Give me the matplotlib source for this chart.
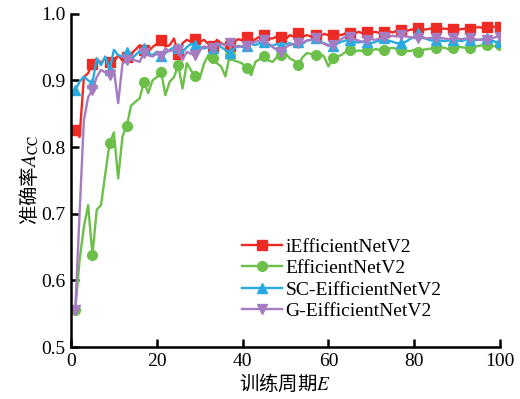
import numpy as np
import matplotlib
matplotlib.use("Agg")
import matplotlib.pyplot as plt

plt.rcParams['font.family'] = ['Liberation Serif', 'Noto Sans CJK SC']
plt.rcParams['mathtext.fontset'] = 'stix'

epochs = np.arange(1, 101)

# iEfficientNetV2
acc_i = [0.825, 0.815, 0.905, 0.911, 0.925, 0.933, 0.926, 0.934, 0.928, 0.928,
         0.938, 0.930, 0.935, 0.940, 0.946, 0.953, 0.946, 0.944, 0.950, 0.955,
         0.961, 0.951, 0.953, 0.963, 0.940, 0.956, 0.961, 0.958, 0.962, 0.958,
         0.961, 0.955, 0.951, 0.961, 0.956, 0.953, 0.951, 0.958, 0.962, 0.960,
         0.966, 0.958, 0.962, 0.966, 0.968, 0.963, 0.963, 0.966, 0.966, 0.962,
         0.968, 0.966, 0.971, 0.966, 0.968, 0.966, 0.968, 0.966, 0.970, 0.968,
         0.968, 0.970, 0.968, 0.971, 0.971, 0.970, 0.973, 0.971, 0.973, 0.972,
         0.973, 0.971, 0.973, 0.974, 0.972, 0.975, 0.976, 0.974, 0.976, 0.977,
         0.979, 0.976, 0.977, 0.978, 0.979, 0.977, 0.978, 0.977, 0.978, 0.976,
         0.977, 0.978, 0.978, 0.979, 0.980, 0.979, 0.981, 0.980, 0.981, 0.981]

# EfficientNetV2
acc_e = [0.555, 0.630, 0.680, 0.713, 0.638, 0.706, 0.713, 0.760, 0.806, 0.822,
         0.753, 0.816, 0.832, 0.862, 0.868, 0.873, 0.898, 0.881, 0.900, 0.905,
         0.913, 0.878, 0.898, 0.905, 0.923, 0.888, 0.926, 0.915, 0.906, 0.903,
         0.925, 0.938, 0.933, 0.926, 0.921, 0.906, 0.938, 0.930, 0.928, 0.925,
         0.918, 0.908, 0.928, 0.932, 0.936, 0.930, 0.928, 0.935, 0.938, 0.941,
         0.933, 0.930, 0.923, 0.935, 0.941, 0.940, 0.938, 0.940, 0.936, 0.921,
         0.933, 0.936, 0.938, 0.943, 0.946, 0.943, 0.945, 0.944, 0.946, 0.945,
         0.947, 0.946, 0.946, 0.948, 0.949, 0.947, 0.946, 0.945, 0.944, 0.946,
         0.943, 0.946, 0.947, 0.948, 0.948, 0.950, 0.949, 0.947, 0.948, 0.951,
         0.950, 0.949, 0.948, 0.950, 0.952, 0.953, 0.953, 0.951, 0.952, 0.953]

# SC-EifficientNetV2
acc_sc = [0.886, 0.898, 0.906, 0.900, 0.896, 0.933, 0.923, 0.936, 0.916, 0.946,
          0.938, 0.936, 0.943, 0.931, 0.938, 0.944, 0.948, 0.941, 0.938, 0.943,
          0.936, 0.941, 0.946, 0.950, 0.948, 0.943, 0.950, 0.955, 0.953, 0.951,
          0.948, 0.950, 0.948, 0.956, 0.950, 0.946, 0.941, 0.948, 0.952, 0.950,
          0.951, 0.955, 0.953, 0.956, 0.958, 0.954, 0.952, 0.955, 0.951, 0.955,
          0.956, 0.953, 0.958, 0.955, 0.960, 0.961, 0.963, 0.958, 0.956, 0.953,
          0.951, 0.955, 0.958, 0.960, 0.961, 0.958, 0.957, 0.958, 0.958, 0.956,
          0.958, 0.960, 0.963, 0.960, 0.958, 0.956, 0.956, 0.958, 0.962, 0.966,
          0.971, 0.965, 0.962, 0.960, 0.961, 0.960, 0.959, 0.960, 0.961, 0.960,
          0.959, 0.961, 0.960, 0.960, 0.961, 0.962, 0.963, 0.960, 0.958, 0.958]

# G-EifficientNetV2
acc_g = [0.555, 0.700, 0.840, 0.875, 0.886, 0.905, 0.916, 0.912, 0.908, 0.916,
         0.866, 0.925, 0.931, 0.933, 0.930, 0.928, 0.941, 0.938, 0.936, 0.940,
         0.936, 0.948, 0.944, 0.946, 0.946, 0.931, 0.943, 0.940, 0.938, 0.945,
         0.951, 0.950, 0.948, 0.952, 0.955, 0.953, 0.956, 0.953, 0.950, 0.952,
         0.951, 0.955, 0.958, 0.960, 0.961, 0.956, 0.950, 0.946, 0.943, 0.950,
         0.953, 0.955, 0.956, 0.957, 0.960, 0.961, 0.963, 0.958, 0.955, 0.952,
         0.953, 0.958, 0.962, 0.966, 0.966, 0.962, 0.960, 0.958, 0.961, 0.962,
         0.961, 0.963, 0.966, 0.966, 0.967, 0.966, 0.968, 0.966, 0.965, 0.964,
         0.963, 0.964, 0.963, 0.964, 0.963, 0.964, 0.963, 0.962, 0.963, 0.963,
         0.962, 0.963, 0.963, 0.962, 0.961, 0.961, 0.961, 0.963, 0.965, 0.966]

labels = ['iEfficientNetV2', 'EfficientNetV2', 'SC-EifficientNetV2', 'G-EifficientNetV2']

fig = plt.figure(figsize=(5.2, 3.99), dpi=100)
ax = fig.add_axes([0.1365, 0.1303, 0.825, 0.835])

marks = list(range(0, 100, 4)) + [99]
styles = [('#EE2A24', 's', acc_i), ('#6CC04A', 'o', acc_e),
          ('#29ABE2', '^', acc_sc), ('#A67BC2', 'v', acc_g)]
for (color, marker, acc), label in zip(styles, labels):
    ax.plot(epochs, acc, color=color, marker=marker, markersize=7, lw=1.7,
            markevery=marks, label=label)

ax.set_xlim(0, 100)
ax.set_ylim(0.5, 1.0)
ax.set_xticks(np.arange(0, 101, 20))
ax.set_yticks(np.arange(0.5, 1.01, 0.1))
ax.set_yticklabels([f"{v:.1f}" for v in np.arange(0.5, 1.01, 0.1)])
ax.spines['top'].set_visible(False)
ax.spines['right'].set_visible(False)
ax.spines['left'].set_linewidth(1.8)
ax.spines['bottom'].set_linewidth(1.8)
ax.tick_params(direction='in', length=6, width=1.8, labelsize=14, pad=4)

# CJK part of the mixed strings is drawn with the label's own family
ax.set_xlabel(r'训练周期$E$', fontsize=14, labelpad=2, family='Noto Sans CJK SC')
ax.set_ylabel(r'准确率$A_{\mathrm{CC}}$', fontsize=14, labelpad=0, family='Noto Sans CJK SC')

ax.legend(loc='upper left', bbox_to_anchor=(0.38, 0.35), frameon=False,
          fontsize=14, handlelength=2.05, handletextpad=0.2, labelspacing=0.2,
          borderaxespad=0)

fig.savefig('out.png', dpi=100)
